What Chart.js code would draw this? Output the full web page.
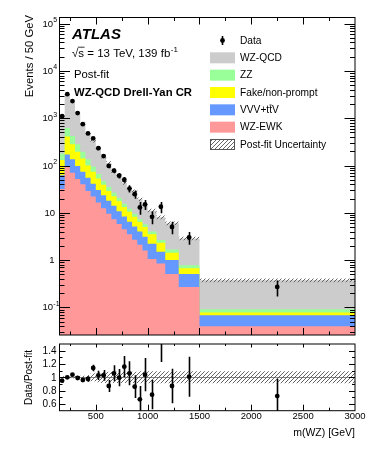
<!DOCTYPE html>
<html>
<head>
<meta charset="utf-8">
<script src="https://cdn.jsdelivr.net/npm/chart.js@4.4.0/dist/chart.umd.min.js"></script>
<style>
html, body { margin: 0; padding: 0; background: #fff; }
#wrap { position: relative; width: 374px; height: 456px; }
#main { position: absolute; left: 0; top: 0; }
#ratio { position: absolute; left: 0; top: 340px; }
</style>
</head>
<body>
<div id="wrap">
    <canvas id="main" width="374" height="340"></canvas>
    <canvas id="ratio" width="374" height="116"></canvas>
</div>
<script>
// bin edges in m(WZ) [GeV]
const binEdges = [150, 200, 250, 300, 350, 400, 450, 500, 550, 600, 650, 700, 750, 800, 850, 900, 950, 1000, 1085, 1170, 1300, 1500, 3000];

// post-fit predictions, events / 50 GeV
const wzEwk = [32, 95, 70, 52, 40, 29, 22, 16.5, 12.5, 9.5, 7.3, 5.8, 4.5, 3.5, 2.7, 2.1, 1.6, 1.05, 0.85, 0.51, 0.27, 0.040];
const vvvTtv = [30, 75, 65, 46, 34, 26, 19, 14, 11, 8.5, 6.7, 5.0, 3.8, 3.0, 2.4, 1.9, 1.5, 1.15, 0.65, 0.49, 0.24, 0.028];
const fakes = [68, 240, 145, 97, 66, 45, 33, 22.5, 15.5, 11, 8.5, 6.7, 4.9, 4.0, 3.1, 2.4, 1.9, 1.3, 0.82, 0.43, 0.16, 0.010];
const zz = [50, 210, 140, 85, 55, 35, 21, 13, 8, 6, 4, 3, 2.3, 1.7, 1.3, 1.0, 0.7, 0.5, 0.33, 0.25, 0.11, 0.013];
const wzQcd = [985, 2610, 1790, 1015, 586, 355, 233, 159, 106, 78, 47.5, 40.5, 27.5, 18.5, 19.3, 12.0, 8.7, 7.1, 5.35, 4.29, 2.09, 0.284];
const postFitUnc = [0.015, 0.015, 0.015, 0.02, 0.025, 0.035, 0.06, 0.075, 0.085, 0.085, 0.085, 0.085, 0.085, 0.085, 0.085, 0.09, 0.09, 0.09, 0.09, 0.09, 0.09, 0.09];

// data
const dataCounts = [1107, 3230, 2300, 1282, 750, 478, 374, 232, 158, 98, 78, 61, 50, 32.5, 24.8, 13, 15, 8.2, 13.4, 5.0, 3.0, 0.27];
const dataErr = [35, 65, 44, 32, 23, 20, 16.5, 15.8, 12.3, 10.1, 8.8, 8.0, 6.9, 5.5, 4.9, 3.9, 3.6, 2.5, 3.6, 1.5, 0.9, 0.1];
const ratioVals = [0.95, 1.00, 1.04, 0.99, 0.96, 0.975, 1.14, 1.03, 1.03, 0.87, 1.06, 0.995, 1.16, 1.06, 0.86, 0.67, 1.04, 0.74, 1.68, 0.87, 1.01, 0.72];
const ratioErr = [0.03, 0.02, 0.02, 0.025, 0.03, 0.04, 0.05, 0.07, 0.08, 0.09, 0.12, 0.13, 0.16, 0.18, 0.17, 0.2, 0.25, 0.22, 0.45, 0.26, 0.3, 0.26];

const xMajor = [500, 1000, 1500, 2000, 2500, 3000];
const yMainExp = [-1, 0, 1, 2, 3, 4, 5];
const yRatioTicks = [0.6, 0.8, 1, 1.2, 1.4];

const FONT = '"Liberation Sans", Arial, Helvetica, sans-serif';
const colors = {qcd: '#cccccc', zz: '#99ff99', fake: '#ffff00', vvv: '#6699ff', ewk: '#ff9999'};

const steps = vals => binEdges.map((e, i) => ({x: e, y: vals[Math.min(i, vals.length - 1)]}));
const centers = binEdges.slice(0, -1).map((e, i) => (e + binEdges[i + 1]) / 2);

// stack the components
const tops = [];
let run = wzEwk.map(() => 0);
[wzEwk, vvvTtv, fakes, zz, wzQcd].forEach(layer => {
    run = run.map((v, i) => v + layer[i]);
    tops.push(run);
});
const total = tops[4];

function hatch(ctx) {
    const c = document.createElement('canvas');
    c.width = 4; c.height = 4;
    const g = c.getContext('2d');
    g.strokeStyle = '#555';
    g.lineWidth = 0.9;
    g.beginPath();
    g.moveTo(0, 4); g.lineTo(4, 0);
    g.moveTo(-1, 1); g.lineTo(1, -1);
    g.moveTo(3, 5); g.lineTo(5, 3);
    g.stroke();
    return ctx.createPattern(c, 'repeat');
}

const mainCtx = document.getElementById('main').getContext('2d');
const ratioCtx = document.getElementById('ratio').getContext('2d');

const stepLine = (vals, color, fill) => ({
    data: steps(vals), stepped: 'before', borderWidth: 0, pointRadius: 0,
    backgroundColor: color, fill
});

function errorBars(chart, vals, errs) {
    const {ctx, chartArea: a, scales: {x, y}} = chart;
    ctx.save();
    ctx.beginPath();
    ctx.rect(a.left, a.top, a.right - a.left, a.bottom - a.top);
    ctx.clip();
    ctx.strokeStyle = '#000';
    ctx.lineWidth = 1.6;
    vals.forEach((v, i) => {
        const px = Math.round(x.getPixelForValue(centers[i])) + 0.5;
        const lo = Math.max(v - errs[i], y.min * 0.5);
        ctx.beginPath();
        ctx.moveTo(px, y.getPixelForValue(lo));
        ctx.lineTo(px, y.getPixelForValue(v + errs[i]));
        ctx.stroke();
    });
    ctx.restore();
}

function tickLine(ctx, x1, y1, x2, y2) {
    ctx.beginPath();
    ctx.moveTo(x1, y1);
    ctx.lineTo(x2, y2);
    ctx.stroke();
}

const mainDecor = {
    id: 'mainDecor',
    afterDatasetsDraw(chart) {
        errorBars(chart, dataCounts, dataErr);
    },
    afterDraw(chart) {
        const {ctx, chartArea: a, scales: {x, y}} = chart;
        ctx.save();
        ctx.strokeStyle = '#000';
        ctx.lineWidth = 1;
        ctx.strokeRect(a.left, a.top, a.right - a.left, a.bottom - a.top);

        // x ticks, inward on both sides
        for (let v = 250; v < 3000; v += 250) {
            const px = Math.round(x.getPixelForValue(v)) + 0.5;
            const len = v % 500 === 0 ? 7 : 3.5;
            tickLine(ctx, px, a.bottom, px, a.bottom - len);
            tickLine(ctx, px, a.top, px, a.top + len);
        }
        // y ticks, log
        for (let p = -2; p <= 5; p++) {
            for (let k = 1; k <= 9; k++) {
                const v = k * Math.pow(10, p);
                if (v < y.min || v > y.max) continue;
                const py = Math.round(y.getPixelForValue(v)) + 0.5;
                const len = k === 1 ? 10.5 : 5;
                tickLine(ctx, a.left, py, a.left + len, py);
                tickLine(ctx, a.right, py, a.right - len, py);
            }
        }

        // y tick labels
        ctx.fillStyle = '#000';
        ctx.textBaseline = 'middle';
        yMainExp.forEach(p => {
            const py = y.getPixelForValue(Math.pow(10, p));
            ctx.font = `9.5px ${FONT}`;
            ctx.textAlign = 'right';
            if (p === 0) {
                ctx.fillText('1', 54.5, py + 0.5);
            } else if (p === 1) {
                ctx.fillText('10', 55, py + 0.5);
            } else {
                ctx.fillText('10', 53, py + 0.5);
                ctx.font = `7px ${FONT}`;
                ctx.textAlign = 'left';
                ctx.fillText(String(p), 53.3, py - 3.5);
            }
        });

        // y title
        ctx.save();
        ctx.translate(30, 15);
        ctx.rotate(-Math.PI / 2);
        ctx.font = `11.3px ${FONT}`;
        ctx.textAlign = 'right';
        ctx.textBaseline = 'middle';
        ctx.fillText('Events / 50 GeV', 0, 0);
        ctx.restore();

        // ATLAS label block
        ctx.textAlign = 'left';
        ctx.textBaseline = 'alphabetic';
        ctx.font = `italic bold 15px ${FONT}`;
        ctx.fillText('ATLAS', 72, 39);
        ctx.font = `11.5px ${FONT}`;
        const sq = '\u221A';
        ctx.fillText(sq + 's = 13 TeV, 139 fb', 72, 57);
        const wSq = ctx.measureText(sq).width;
        const wS = ctx.measureText(sq + 's').width;
        const wAll = ctx.measureText(sq + 's = 13 TeV, 139 fb').width;
        ctx.lineWidth = 0.8;
        tickLine(ctx, 72 + wSq - 0.5, 47.2, 72 + wS + 0.5, 47.2);
        ctx.font = `8px ${FONT}`;
        ctx.fillText('-1', 72 + wAll + 0.5, 52);
        ctx.font = `11.3px ${FONT}`;
        ctx.fillText('Post-fit', 74, 78);
        ctx.font = `bold 11.3px ${FONT}`;
        ctx.fillText('WZ-QCD Drell-Yan CR', 74, 96);

        // legend
        const rows = [
            ['Data', null],
            ['WZ-QCD', colors.qcd],
            ['ZZ', colors.zz],
            ['Fake/non-prompt', colors.fake],
            ['VVV+t\u0305t\u0305V', colors.vvv],
            ['WZ-EWK', colors.ewk],
            ['Post-fit Uncertainty', 'hatch']
        ];
        rows.forEach(([label, col], i) => {
            const cy = 40.5 + 17.33 * i;
            if (col === null) {
                ctx.fillStyle = '#000';
                ctx.beginPath();
                ctx.arc(222.5, cy, 2.4, 0, 2 * Math.PI);
                ctx.fill();
                ctx.lineWidth = 1.6;
                tickLine(ctx, 222.5, cy - 4.5, 222.5, cy + 4.5);
            } else if (col === 'hatch') {
                ctx.fillStyle = hatch(ctx);
                ctx.fillRect(210, cy - 5.5, 25, 11);
                ctx.strokeStyle = '#555';
                ctx.lineWidth = 1;
                ctx.strokeRect(210.5, cy - 5, 24, 10);
                ctx.strokeStyle = '#000';
            } else {
                ctx.fillStyle = col;
                ctx.fillRect(210, cy - 5.5, 25, 11);
            }
            ctx.fillStyle = '#000';
            ctx.font = `10.2px ${FONT}`;
            ctx.textBaseline = 'middle';
            ctx.fillText(label.replace(/\u0305/g, ''), 240, cy + 0.5);
            if (label.indexOf('\u0305') >= 0) {
                // bar over the second t in ttV
                const w0 = ctx.measureText('VVV+t').width;
                const w1 = ctx.measureText('VVV+tt').width;
                ctx.lineWidth = 0.8;
                tickLine(ctx, 240 + w0 + 0.3, cy - 4.8, 240 + w1 - 0.3, cy - 4.8);
            }
        });
        ctx.restore();
    }
};

new Chart(mainCtx, {
    type: 'line',
    data: {
        datasets: [
            {data: centers.map((c, i) => ({x: c, y: dataCounts[i]})), showLine: false,
                pointRadius: 2.4, pointBackgroundColor: '#000', pointBorderWidth: 0, label: 'Data'},
            stepLine(tops[0], colors.ewk, 'start'),
            stepLine(tops[1], colors.vvv, 'start'),
            stepLine(tops[2], colors.fake, 'start'),
            stepLine(tops[3], colors.zz, 'start'),
            stepLine(total.map((v, i) => v * (1 + postFitUnc[i])), hatch(mainCtx), '+1'),
            stepLine(total.map((v, i) => v * (1 - postFitUnc[i])), 'rgba(0,0,0,0)', false),
            stepLine(total, colors.qcd, 'start')
        ]
    },
    options: {
        responsive: false,
        devicePixelRatio: 1,
        animation: false,
        layout: {padding: {left: 59.5, right: 19, top: 17.5, bottom: 5}},
        plugins: {legend: {display: false}, tooltip: {enabled: false}},
        scales: {
            x: {type: 'linear', min: 150, max: 3000, display: false},
            y: {type: 'logarithmic', min: 0.026, max: 135000, display: false}
        }
    },
    plugins: [mainDecor]
});

const ratioDecor = {
    id: 'ratioDecor',
    beforeDatasetsDraw(chart) {
        const {ctx, chartArea: a, scales: {y}} = chart;
        ctx.save();
        ctx.strokeStyle = '#888';
        ctx.lineWidth = 1;
        const py = Math.round(y.getPixelForValue(1)) + 0.5;
        tickLine(ctx, a.left, py, a.right, py);
        ctx.restore();
    },
    afterDatasetsDraw(chart) {
        errorBars(chart, ratioVals, ratioErr);
    },
    afterDraw(chart) {
        const {ctx, chartArea: a, scales: {x, y}} = chart;
        ctx.save();
        ctx.strokeStyle = '#000';
        ctx.lineWidth = 1;
        ctx.strokeRect(a.left, a.top, a.right - a.left, a.bottom - a.top);
        for (let v = 250; v < 3000; v += 250) {
            const px = Math.round(x.getPixelForValue(v)) + 0.5;
            const major = v % 500 === 0;
            tickLine(ctx, px, a.bottom, px, a.bottom - (major ? 6 : 3));
            tickLine(ctx, px, a.top, px, a.top + (major ? 3.5 : 2));
        }
        for (let v = 0.6; v < 1.45; v += 0.1) {
            const py = Math.round(y.getPixelForValue(v)) + 0.5;
            const major = Math.abs(Math.round(v * 10) % 2) === 0;
            const len = major ? 6 : 3;
            tickLine(ctx, a.left, py, a.left + len, py);
            tickLine(ctx, a.right, py, a.right - len, py);
        }
        ctx.fillStyle = '#000';
        ctx.font = `10px ${FONT}`;
        ctx.textAlign = 'right';
        ctx.textBaseline = 'middle';
        yRatioTicks.forEach(v => {
            ctx.fillText(String(v), 56.5, y.getPixelForValue(v) + 0.5);
        });
        ctx.textAlign = 'center';
        ctx.font = `9.5px ${FONT}`;
        xMajor.forEach(v => {
            ctx.fillText(String(v), x.getPixelForValue(v), 76.7);
        });
        ctx.textAlign = 'right';
        ctx.font = `10.5px ${FONT}`;
        ctx.fillText('m(WZ) [GeV]', a.right, 93);

        ctx.save();
        ctx.translate(29, 37.5);
        ctx.rotate(-Math.PI / 2);
        ctx.textAlign = 'center';
        ctx.font = `10px ${FONT}`;
        ctx.fillText('Data/Post-fit', 0, 0);
        ctx.restore();
        ctx.restore();
    }
};

new Chart(ratioCtx, {
    type: 'line',
    data: {
        datasets: [
            {data: centers.map((c, i) => ({x: c, y: ratioVals[i]})), showLine: false,
                pointRadius: 2.4, pointBackgroundColor: '#000', pointBorderWidth: 0},
            stepLine(postFitUnc.map(u => 1 + u), hatch(ratioCtx), '+1'),
            stepLine(postFitUnc.map(u => 1 - u), 'rgba(0,0,0,0)', false)
        ]
    },
    options: {
        responsive: false,
        devicePixelRatio: 1,
        animation: false,
        layout: {padding: {left: 59.5, right: 19, top: 2, bottom: 45.3}},
        plugins: {legend: {display: false}, tooltip: {enabled: false}},
        scales: {
            x: {type: 'linear', min: 150, max: 3000, display: false},
            y: {type: 'linear', min: 0.5, max: 1.5, display: false}
        }
    },
    plugins: [ratioDecor]
});
</script>
</body>
</html>
